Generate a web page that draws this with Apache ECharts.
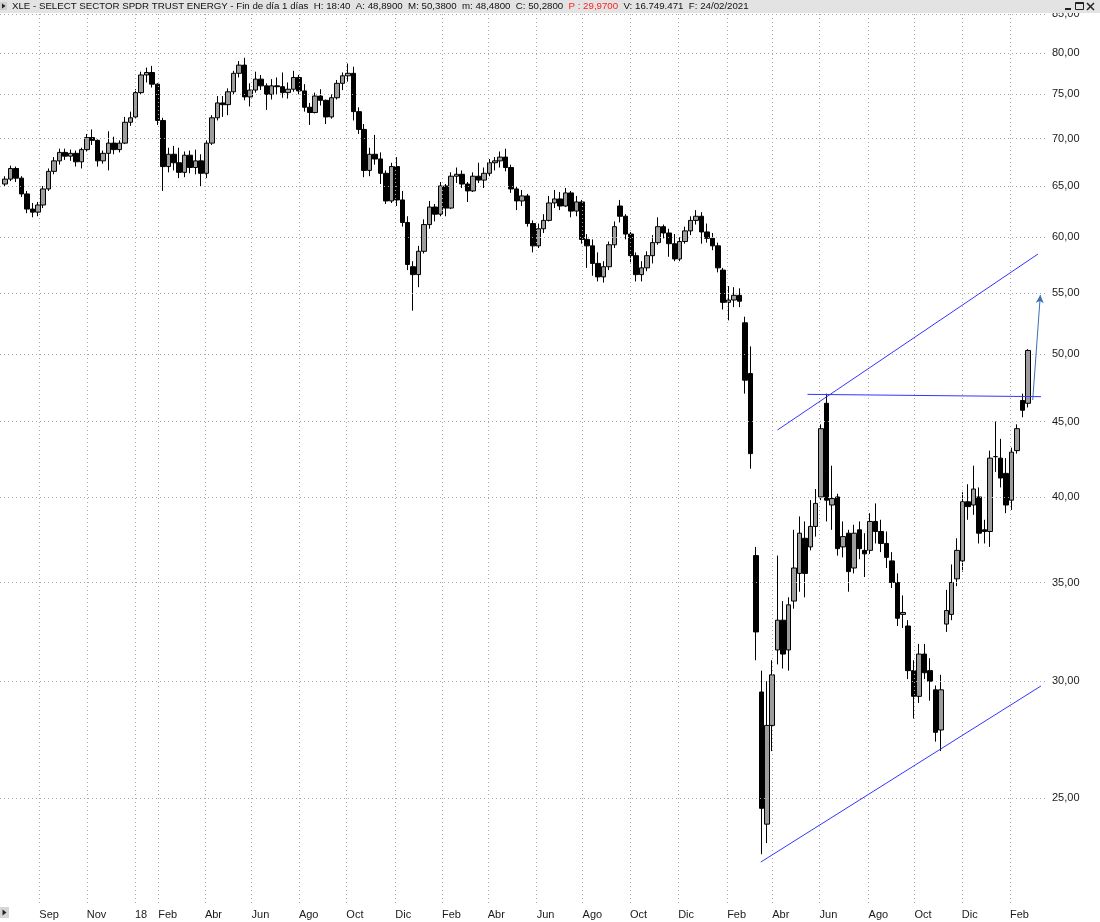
<!DOCTYPE html>
<html><head><meta charset="utf-8">
<script src="https://cdn.jsdelivr.net/npm/echarts@6/dist/echarts.min.js"></script>
<style>html,body{margin:0;padding:0;background:#fff}#c{width:1100px;height:922px}</style>
</head><body><div id="c"></div>
<script>
// Weekly bars (Monday of each week)
const weeks = [
'2017-07-17','2017-07-24','2017-07-31','2017-08-07','2017-08-14','2017-08-21','2017-08-28','2017-09-04','2017-09-11','2017-09-18',
'2017-09-25','2017-10-02','2017-10-09','2017-10-16','2017-10-23','2017-10-30','2017-11-06','2017-11-13','2017-11-20','2017-11-27',
'2017-12-04','2017-12-11','2017-12-18','2017-12-25','2018-01-01','2018-01-08','2018-01-15','2018-01-22','2018-01-29','2018-02-05',
'2018-02-12','2018-02-19','2018-02-26','2018-03-05','2018-03-12','2018-03-19','2018-03-26','2018-04-02','2018-04-09','2018-04-16',
'2018-04-23','2018-04-30','2018-05-07','2018-05-14','2018-05-21','2018-05-28','2018-06-04','2018-06-11','2018-06-18','2018-06-25',
'2018-07-02','2018-07-09','2018-07-16','2018-07-23','2018-07-30','2018-08-06','2018-08-13','2018-08-20','2018-08-27','2018-09-03',
'2018-09-10','2018-09-17','2018-09-24','2018-10-01','2018-10-08','2018-10-15','2018-10-22','2018-10-29','2018-11-05','2018-11-12',
'2018-11-19','2018-11-26','2018-12-03','2018-12-10','2018-12-17','2018-12-24','2018-12-31','2019-01-07','2019-01-14','2019-01-21',
'2019-01-28','2019-02-04','2019-02-11','2019-02-18','2019-02-25','2019-03-04','2019-03-11','2019-03-18','2019-03-25','2019-04-01',
'2019-04-08','2019-04-15','2019-04-22','2019-04-29','2019-05-06','2019-05-13','2019-05-20','2019-05-27','2019-06-03','2019-06-10',
'2019-06-17','2019-06-24','2019-07-01','2019-07-08','2019-07-15','2019-07-22','2019-07-29','2019-08-05','2019-08-12','2019-08-19',
'2019-08-26','2019-09-02','2019-09-09','2019-09-16','2019-09-23','2019-09-30','2019-10-07','2019-10-14','2019-10-21','2019-10-28',
'2019-11-04','2019-11-11','2019-11-18','2019-11-25','2019-12-02','2019-12-09','2019-12-16','2019-12-23','2019-12-30','2020-01-06',
'2020-01-13','2020-01-20','2020-01-27','2020-02-03','2020-02-10','2020-02-17','2020-02-24','2020-03-02','2020-03-09','2020-03-16',
'2020-03-23','2020-03-30','2020-04-06','2020-04-13','2020-04-20','2020-04-27','2020-05-04','2020-05-11','2020-05-18','2020-05-25',
'2020-06-01','2020-06-08','2020-06-15','2020-06-22','2020-06-29','2020-07-06','2020-07-13','2020-07-20','2020-07-27','2020-08-03',
'2020-08-10','2020-08-17','2020-08-24','2020-08-31','2020-09-07','2020-09-14','2020-09-21','2020-09-28','2020-10-05','2020-10-12',
'2020-10-19','2020-10-26','2020-11-02','2020-11-09','2020-11-16','2020-11-23','2020-11-30','2020-12-07','2020-12-14','2020-12-21',
'2020-12-28','2021-01-04','2021-01-11','2021-01-18','2021-01-25','2021-02-01','2021-02-08','2021-02-15','2021-02-22'
];
const open = [
65.2,65.7,66.8,65.8,64.2,62.7,62.4,63.1,64.7,66.5, 67.6,68.5,68.1,68.4,67.5,68.8,70.1,69.8,67.6,68.4,
69.5,68.8,69.5,71.8,72.4,75.2,77.3,77.6,76.2,72.0, 67.0,68.3,67.4,66.4,68.2,66.9,67.6,66.3,69.5,72.3,
74.0,73.8,75.3,77.5,78.5,74.7,75.5,76.8,76.0,75.0, 76.0,75.9,75.2,75.6,77.0,75.4,73.5,72.9,74.8,74.3,
72.4,74.6,76.3,77.2,77.5,73.0,71.0,66.6,68.3,67.8, 66.3,63.5,67.0,63.6,61.4,57.3,56.6,58.7,61.2,62.9,
62.2,65.0,62.8,66.0,66.2,65.2,64.5,66.0,65.6,66.3, 67.4,67.6,68.0,66.9,64.7,63.5,64.0,61.3,59.2,60.8,
61.6,63.3,63.7,63.0,64.3,62.5,63.4,59.8,59.2,57.6, 56.4,57.3,59.3,63.0,62.0,60.3,58.3,56.6,57.2,58.3,
59.5,61.0,60.4,59.4,58.0,59.6,60.6,61.6,62.0,60.5, 59.9,59.2,57.0,54.2,54.4,54.8,52.5,48.5,36.5,29.5,
24.0,28.0,31.5,33.0,31.5,34.0,35.5,37.5,37.0,38.2, 40.0,46.3,39.5,40.0,37.0,37.8,35.8,38.0,36.8,36.8,
38.5,37.9,37.2,36.2,35.0,33.3,32.7,30.5,29.3,31.3, 30.5,29.6,27.8,32.8,33.3,35.2,36.2,39.7,39.5,40.0,
38.0,37.9,42.6,42.5,41.5,39.8,43.0,46.5,46.3
];
const high = [
66.0,67.1,67.0,66.0,64.5,63.3,63.4,65.0,66.8,68.0, 68.9,68.9,68.8,68.7,69.0,70.5,71.0,69.9,68.7,70.8,
70.2,69.8,72.4,73.0,75.6,77.7,78.2,78.4,76.3,72.3, 69.0,69.2,69.0,68.6,68.7,68.8,68.3,69.8,72.6,74.8,
74.8,75.7,77.8,79.0,79.4,76.3,77.7,77.3,76.3,76.8, 77.0,77.6,76.4,77.8,77.3,76.2,74.0,75.2,75.6,74.4,
75.0,76.7,77.6,78.7,78.3,73.5,71.6,69.0,70.4,68.5, 66.6,67.4,68.0,64.5,62.0,57.8,59.2,61.7,63.5,63.2,
65.4,65.2,66.4,66.9,66.6,65.4,66.4,67.4,66.9,67.8, 68.0,68.6,68.9,67.2,65.0,64.6,64.2,61.6,61.3,62.2,
64.0,64.6,64.4,64.8,64.5,64.0,63.6,60.3,59.8,58.6, 57.8,59.6,61.5,63.6,62.2,60.5,58.6,57.8,58.7,60.2,
61.9,61.2,60.8,60.3,60.0,61.0,62.0,62.6,62.4,61.3, 60.4,59.5,57.2,55.6,55.5,55.4,53.0,50.6,37.0,30.5,
30.0,31.0,36.5,34.0,34.2,38.0,38.8,38.5,39.8,40.5, 44.8,47.0,42.0,40.2,38.5,38.0,38.3,38.5,37.8,39.0,
39.6,38.6,37.9,36.7,35.5,34.3,33.0,31.0,31.8,31.8, 31.1,29.8,30.3,34.6,36.0,37.5,40.3,40.8,42.0,40.6,
38.6,43.0,45.0,43.8,42.5,43.2,44.8,47.0,50.38
];
const low = [
64.9,65.5,65.4,63.9,62.3,61.9,62.0,62.8,64.5,66.2, 67.2,67.7,67.6,67.0,66.8,68.6,69.3,67.0,67.3,66.6,
68.3,68.5,69.4,71.4,72.3,75.0,76.4,75.8,71.5,64.5, 66.4,66.6,65.8,65.9,66.3,66.2,65.0,65.8,69.3,72.0,
72.4,72.6,75.0,77.0,74.3,73.6,75.2,75.5,73.2,74.4, 75.0,74.6,74.5,75.3,75.0,73.0,71.5,72.8,73.7,71.6,
72.2,74.4,75.5,76.5,72.0,70.5,65.9,66.0,67.2,65.2, 63.2,63.3,63.0,61.0,57.0,53.5,55.5,58.5,60.8,61.5,
62.0,62.0,62.7,65.3,64.8,63.4,64.4,65.3,64.8,66.0, 66.6,66.9,66.5,64.3,62.6,63.0,61.0,58.6,59.0,60.4,
61.5,62.8,62.6,62.9,61.9,62.0,59.4,57.2,56.5,56.0, 55.9,57.0,59.0,61.4,59.8,57.6,56.0,56.0,56.9,57.6,
59.3,59.9,58.2,57.8,57.8,59.4,60.2,61.2,59.4,59.5, 58.8,56.8,53.6,52.7,53.8,53.8,47.0,41.8,31.0,22.9,
23.3,26.9,30.8,30.6,30.5,33.6,34.5,34.2,36.8,37.6, 39.8,38.5,38.0,36.5,36.4,34.5,35.5,36.3,35.3,36.6,
37.2,36.7,35.8,34.7,32.7,32.6,30.1,28.3,29.0,30.1, 29.1,27.3,26.9,32.4,33.0,34.8,35.6,38.6,38.9,37.2,
37.2,37.0,41.6,40.6,39.0,39.2,42.8,45.3,46.0
];
const close = [
65.7,66.8,65.8,64.2,62.7,62.4,63.1,64.7,66.5,67.6, 68.5,68.1,68.4,67.5,68.8,70.1,69.8,67.6,68.4,69.5,
68.8,69.5,71.8,72.3,75.2,77.3,77.6,76.2,72.0,67.0, 68.3,67.4,66.4,68.2,66.9,67.6,66.3,69.5,72.3,74.0,
73.8,75.3,77.5,78.5,74.7,75.5,76.8,76.0,75.0,76.0, 75.9,75.2,75.6,77.0,75.4,73.5,72.9,74.8,74.3,72.4,
74.6,76.3,77.2,77.5,73.0,71.0,66.6,68.3,67.8,66.3, 63.5,67.0,63.6,61.4,57.5,56.6,58.7,61.2,62.9,62.2,
65.0,62.8,66.0,66.2,65.2,64.5,66.0,65.6,66.3,67.4, 67.6,68.0,66.9,64.7,63.5,64.0,61.3,59.2,60.8,61.6,
63.3,63.7,63.0,64.3,62.5,63.4,59.8,59.2,57.6,56.4, 57.3,59.3,61.0,62.0,60.3,58.3,56.6,57.2,58.3,59.5,
61.0,60.4,59.4,58.0,59.6,60.6,61.6,62.0,60.5,59.9, 59.2,57.2,54.2,54.4,54.8,54.3,48.0,42.8,32.4,24.6,
28.0,30.3,33.0,31.3,33.8,35.8,37.8,35.5,38.2,39.6, 44.5,39.8,39.9,36.9,37.6,35.6,37.8,36.9,36.6,38.5,
37.9,37.2,36.4,35.0,33.1,33.4,30.5,29.3,31.3,30.4, 30.0,27.7,29.6,33.5,35.0,36.8,39.7,39.4,40.5,37.8,
37.9,42.5,42.6,41.2,39.5,42.9,44.5,45.8,50.28
];
// Axis ticks
const monthDates = ['2017-09-01','2017-11-01','2018-01-02','2018-02-01','2018-04-02','2018-06-01','2018-08-01','2018-10-01','2018-12-03','2019-02-01','2019-04-01','2019-06-03','2019-08-01','2019-10-01','2019-12-02','2020-02-03','2020-04-01','2020-06-01','2020-08-03','2020-10-01','2020-12-01','2021-02-01'];
const monthLabels = ['Sep','Nov','18','Feb','Abr','Jun','Ago','Oct','Dic','Feb','Abr','Jun','Ago','Oct','Dic','Feb','Abr','Jun','Ago','Oct','Dic','Feb'];
const priceTicks = [25,30,35,40,45,50,55,60,65,70,75,80,85];
// Drawn lines (date, price)
const upperTrend = [['2020-04-07 19:00', 44.41], ['2021-03-09 00:00', 58.45]];
const lowerTrend = [['2020-03-17 07:00', 22.62], ['2021-03-12 22:00', 29.78]];
const resistance = [['2020-05-16 10:00', 46.95], ['2021-03-12 22:00', 46.78]];
const target = [['2021-03-02 05:00', 46.54], ['2021-03-12 00:00', 54.83]];

function t(s){
  const p = s.split(' ');
  const d = p[0].split('-').map(Number);
  let h = 0, mi = 0;
  if (p[1]) { const q = p[1].split(':').map(Number); h = q[0]; mi = q[1]; }
  return new Date(d[0], d[1]-1, d[2], h, mi).getTime();
}
const DAY = 86400000;
const monthTs = monthDates.map(t);
const candles = weeks.map((w, i) => [t(w) + 2*DAY, open[i], close[i], low[i], high[i]]);
const seg = a => [{coord:[t(a[0][0]), a[0][1]]}, {coord:[t(a[1][0]), a[1][1]]}];
const FONT = '"Liberation Sans", Arial, sans-serif';

const chart = echarts.init(document.getElementById('c'), null, {renderer:'canvas'});
chart.setOption({
  animation: false,
  backgroundColor: '#ffffff',
  grid: {left: 0, right: 53, top: 0, bottom: 19, containLabel: false, outerBoundsMode: 'none'},
  xAxis: {
    type: 'value', scale: true,
    min: t('2017-07-12 09:00'), max: t('2021-03-20 14:00'),
    axisLine: {show: false}, axisTick: {show: false}, splitLine: {show: false},
    axisLabel: {
      customValues: monthTs,
      formatter: function(v){
        let best = 0, bd = Infinity;
        monthTs.forEach((m, i) => { const dd = Math.abs(m - v); if (dd < bd) { bd = dd; best = i; } });
        return monthLabels[best];
      },
      align: 'left', margin: 6, fontSize: 11, color: '#1a1a1a', fontFamily: FONT,
      hideOverlap: false
    }
  },
  yAxis: {
    type: 'log', position: 'right',
    min: 21.22, max: 86.90,
    axisLine: {show: false}, axisTick: {show: false}, splitLine: {show: false},
    axisLabel: {
      customValues: priceTicks,
      formatter: v => Number(v).toFixed(2).replace('.', ','),
      align: 'left', margin: 5, fontSize: 11, color: '#1a1a1a', fontFamily: FONT
    }
  },
  series: [
    {
      type: 'line', name: 'grid', silent: true, z: 1,
      data: [[candles[0][0], 60]], symbol: 'none', lineStyle: {opacity: 0},
      markLine: {
        silent: true, symbol: ['none','none'], label: {show: false},
        lineStyle: {color: '#a6a6a6', type: [1, 3], width: 1},
        emphasis: {disabled: true},
        data: monthTs.map(v => ({xAxis: v})).concat(priceTicks.map(p => ({yAxis: p})))
      }
    },
    {
      type: 'candlestick', name: 'XLE', z: 3,
      data: candles,
      barWidth: 5,
      itemStyle: {color: '#9c9c9c', color0: '#000000', borderColor: '#000000', borderColor0: '#000000', borderWidth: 1}
    },
    {
      type: 'line', name: 'trend', silent: true, z: 4,
      data: [[candles[0][0], 60]], symbol: 'none', lineStyle: {opacity: 0},
      markLine: {
        silent: true, symbol: ['none','none'], label: {show: false},
        lineStyle: {color: '#3535ff', type: 'solid', width: 1},
        emphasis: {disabled: true},
        data: [seg(upperTrend), seg(lowerTrend), seg(resistance)]
      }
    },
    {
      type: 'line', name: 'target', silent: true, z: 4,
      data: [[candles[0][0], 60]], symbol: 'none', lineStyle: {opacity: 0},
      markLine: {
        silent: true, symbol: ['none','arrow'], symbolSize: [6, 8], label: {show: false},
        lineStyle: {color: '#3d6fb3', type: 'solid', width: 1},
        emphasis: {disabled: true},
        data: [seg(target)]
      }
    }
  ],
  graphic: [
    {type: 'rect', z: 100, shape: {x: 0, y: 0, width: 1100, height: 13}, style: {fill: '#e3e3e3'}},
    {type: 'rect', z: 101, shape: {x: 0, y: 2, width: 7, height: 8}, style: {fill: '#cfcfcf'}},
    {type: 'polygon', z: 102, shape: {points: [[2,3.5],[5.5,6],[2,8.5]]}, style: {fill: '#222'}},
    {type: 'text', z: 101, x: 12, y: 6.5, style: {
      text: '{a|XLE - SELECT SECTOR SPDR TRUST ENERGY - Fin de día 1 días  H: 18:40  A: 48,8900  M: 50,3800  m: 48,4800  C: 50,2800  }{p|P : 29,9700}{a|  V: 16.749.471  F: 24/02/2021}',
      verticalAlign: 'middle',
      rich: {
        a: {fontSize: 9.7, fontFamily: FONT, fill: '#111'},
        p: {fontSize: 9.7, fontFamily: FONT, fill: '#ff2020'}
      }
    }},
    {type: 'rect', z: 101, shape: {x: 1065, y: 8, width: 6, height: 2}, style: {fill: '#222'}},
    {type: 'rect', z: 101, shape: {x: 1075.5, y: 2.5, width: 8, height: 7}, style: {fill: 'none', stroke: '#222', lineWidth: 1}},
    {type: 'rect', z: 101, shape: {x: 1075.5, y: 2.5, width: 8, height: 1.5}, style: {fill: '#222'}},
    {type: 'line', z: 101, shape: {x1: 1087, y1: 3, x2: 1094, y2: 10}, style: {stroke: '#222', lineWidth: 1.5}},
    {type: 'line', z: 101, shape: {x1: 1094, y1: 3, x2: 1087, y2: 10}, style: {stroke: '#222', lineWidth: 1.5}},
    {type: 'rect', z: 101, shape: {x: 0, y: 907, width: 9, height: 11}, style: {fill: '#d6d6d6'}},
    {type: 'polygon', z: 102, shape: {points: [[2.5,909.5],[6.5,912.5],[2.5,915.5]]}, style: {fill: '#222'}}
  ]
});
</script></body></html>
